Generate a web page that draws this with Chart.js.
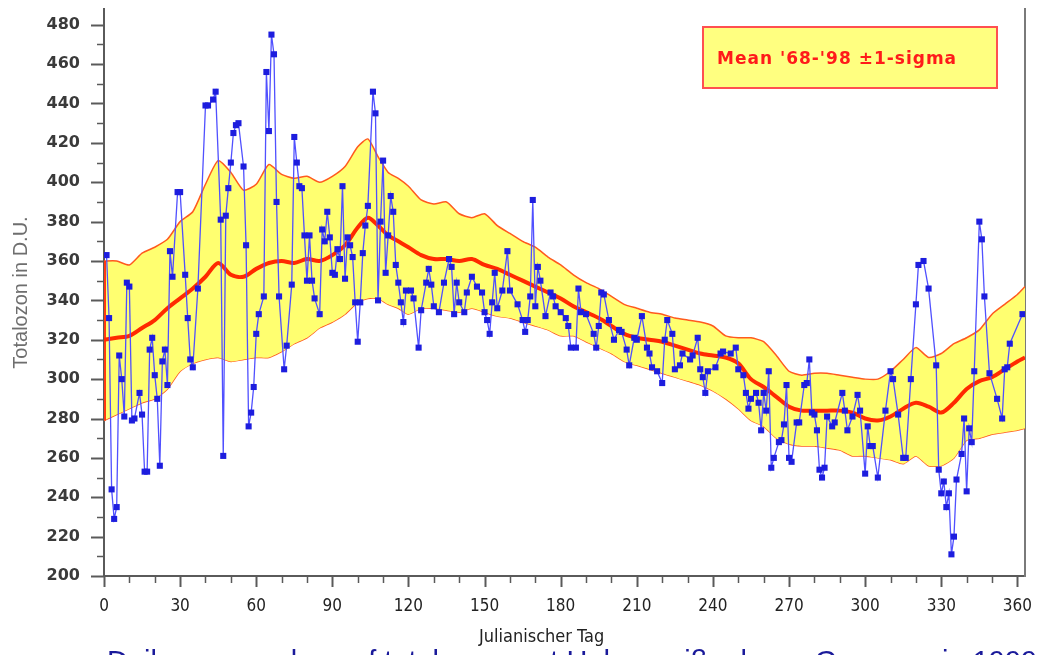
<!DOCTYPE html>
<html>
<head>
<meta charset="utf-8">
<script src="https://cdn.jsdelivr.net/npm/chart.js@4.4.0/dist/chart.umd.min.js"></script>
<style>
  html, body { margin: 0; padding: 0; background: #fff; }
  #wrap { position: relative; width: 1039px; height: 655px; }
</style>
</head>
<body>
<div id="wrap"><canvas id="ozoneChart"></canvas></div>
<script>
// --- Data: daily total ozone (D.U.) ---
const obsDays = [
  1, 2, 3, 4, 5, 6, 7, 8, 9, 10, 11, 12, 14, 15, 16, 17, 18, 19, 20, 21,
  22, 23, 24, 25, 26, 27, 29, 30, 32, 33, 34, 35, 37, 40, 41, 43, 44, 46, 47, 48,
  49, 50, 51, 52, 53, 55, 56, 57, 58, 59, 60, 61, 63, 64, 65, 66, 67, 68, 69, 71,
  72, 74, 75, 76, 77, 78, 79, 80, 81, 82, 83, 85, 86, 87, 88, 89, 90, 91, 92, 93,
  94, 95, 96, 97, 98, 99, 100, 101, 102, 103, 104, 106, 107, 108, 109, 110, 111, 112, 113, 114,
  115, 116, 117, 118, 119, 121, 122, 124, 125, 127, 128, 129, 130, 132, 134, 136, 137, 138, 139, 140,
  142, 143, 145, 147, 149, 150, 151, 152, 153, 154, 155, 157, 159, 160, 163, 165, 166, 167, 168, 169,
  170, 171, 172, 174, 176, 177, 178, 180, 182, 183, 184, 186, 187, 188, 190, 193, 194, 195, 196, 197,
  199, 201, 203, 204, 206, 207, 209, 210, 212, 214, 215, 216, 218, 220, 221, 222, 224, 225, 227, 228,
  231, 232, 234, 235, 236, 237, 238, 241, 243, 244, 247, 249, 250, 252, 253, 254, 255, 257, 258, 259,
  260, 261, 262, 263, 264, 266, 267, 268, 269, 270, 271, 273, 274, 276, 277, 278, 279, 280, 281, 282,
  283, 284, 285, 287, 288, 291, 292, 293, 295, 297, 298, 300, 301, 302, 303, 305, 308, 310, 311, 313,
  315, 316, 318, 320, 321, 323, 325, 328, 329, 330, 331, 332, 333, 334, 335, 336, 338, 339, 340, 341,
  342, 343, 345, 346, 347, 349, 352, 354, 355, 356, 357, 362
];
const obsOzone = [
  363, 331, 244, 229, 235, 312, 300, 281, 349, 347, 279, 280, 293, 282, 253, 253, 315, 321, 302, 290,
  256, 309, 315, 297, 365, 352, 395, 395, 353, 331, 310, 306, 346, 439, 439, 442, 446, 381, 261, 383,
  397, 410, 425, 429, 430, 408, 368, 276, 283, 296, 323, 333, 342, 456, 426, 475, 465, 390, 342, 305,
  317, 348, 423, 410, 398, 397, 373, 350, 373, 350, 341, 333, 376, 370, 385, 372, 354, 353, 366, 361,
  398, 351, 372, 368, 362, 339, 319, 339, 364, 378, 388, 446, 435, 340, 380, 411, 354, 373, 393, 385,
  358, 349, 339, 329, 345, 345, 341, 316, 335, 349, 356, 348, 337, 334, 349, 361, 357, 333, 349, 339,
  334, 344, 352, 347, 344, 334, 330, 323, 339, 354, 336, 345, 365, 345, 338, 330, 324, 330, 342, 391,
  337, 357, 350, 332, 344, 342, 337, 334, 331, 327, 316, 316, 346, 334, 333, 323, 316, 327, 344, 343,
  330, 320, 325, 324, 315, 307, 321, 320, 332, 316, 313, 306, 304, 298, 320, 330, 323, 305, 307, 313,
  310, 312, 321, 305, 301, 293, 304, 306, 313, 314, 313, 316, 305, 302, 293, 285, 290, 293, 288, 274,
  293, 284, 304, 255, 260, 268, 269, 277, 297, 260, 258, 278, 278, 297, 298, 310, 283, 282, 274, 254,
  250, 255, 281, 276, 278, 293, 284, 274, 281, 292, 284, 252, 276, 266, 266, 250, 284, 304, 300, 282,
  260, 260, 300, 338, 358, 360, 346, 307, 254, 242, 248, 235, 242, 211, 220, 249, 262, 280, 243, 275,
  268, 304, 380, 371, 342, 303, 290, 280, 305, 306, 318, 333
];

// --- Data: climatology 1968-1998, mean and +/- 1 sigma ---
const climDays = [
  0, 5, 10, 15, 20, 25, 30, 35, 40, 45, 50, 55, 60, 65, 70, 75, 80, 85, 90, 95,
  100, 104, 108, 112, 116, 120, 125, 130, 135, 140, 145, 150, 155, 160, 165, 170, 175, 180, 185, 190,
  195, 200, 205, 210, 215, 220, 225, 230, 235, 240, 245, 250, 255, 260, 265, 270, 275, 280, 285, 290,
  295, 300, 305, 310, 315, 320, 325, 330, 335, 340, 345, 350, 355, 360, 363
];
const climMean = [
  320, 321, 322, 326, 330, 336, 341, 346, 352, 359, 353, 352, 356, 359, 360, 359, 361, 360, 363, 368,
  377, 382, 378, 373, 370, 367, 363, 361, 361, 360, 361, 358, 356, 353, 350, 347, 344, 341, 337, 334,
  331, 327, 323, 321, 320, 319, 317, 315, 313, 312, 311, 308, 300, 296, 291, 286, 284, 284, 284, 284,
  283, 280, 279, 281, 285, 288, 286, 283, 288, 295, 299, 301, 305, 309, 311
];
const climUpper = [
  360, 360, 358, 364, 367, 371, 380, 385, 399, 411, 405, 396, 399, 409, 404, 402, 403, 400, 403, 408,
  418, 422, 413, 405, 402, 398, 391, 389, 390, 384, 382, 384, 378, 374, 370, 367, 362, 358, 353, 349,
  346, 342, 338, 336, 334, 333, 331, 330, 329, 327, 322, 321, 321, 319, 312, 304, 302, 303, 303, 302,
  301, 300, 300, 304, 310, 316, 311, 313, 318, 321, 325, 333, 338, 343, 347
];
const climLower = [
  279, 282, 285, 288, 290, 295, 304, 308, 310, 311, 309, 310, 311, 311, 314, 318, 321, 326, 329, 333,
  339, 341, 341, 338, 336, 333, 336, 336, 335, 334, 336, 334, 332, 331, 329, 327, 325, 322, 322, 319,
  316, 313, 309, 307, 305, 303, 301, 299, 297, 294, 290, 285, 279, 276, 270, 267, 266, 266, 265, 264,
  261, 261, 260, 259, 257, 261, 256, 256, 260, 269, 270, 272, 273, 274, 275
];

// --- Axis ticks ---
const dayTicks = [0, 30, 60, 90, 120, 150, 180, 210, 240, 270, 300, 330, 360];
const ozoneTicks = [200, 220, 240, 260, 280, 300, 320, 340, 360, 380, 400, 420, 440, 460, 480];

const legendText = "Mean '68-'98 \u00b11-sigma";
const xTitleText = 'Julianischer Tag';
const captionText = 'Daily mean values of total ozone at Hohenpeißenberg, Germany in 1999';

function toPoints(xs, ys) {
    return xs.map((x, i) => ({ x: x, y: ys[i] }));
}

// --- Plugins: tick marks, legend box, x title, caption ---
const axisDecor = {
    id: 'axisDecor',
    afterDraw(chart) {
        const { ctx, chartArea, scales } = chart;
        ctx.save();
        ctx.strokeStyle = '#5a5a5a';

        // y tick marks, minor every 10
        for (let v = 200; v <= 480; v += 10) {
            const y = Math.round(scales.y.getPixelForValue(v)) + 0.5;
            const major = v % 20 === 0;
            ctx.lineWidth = major ? 2 : 1.5;
            ctx.beginPath();
            ctx.moveTo(chartArea.left - (major ? 13 : 7), y);
            ctx.lineTo(chartArea.left, y);
            ctx.stroke();
        }
        // x tick marks, minor every 10
        for (let d = 0; d <= 360; d += 10) {
            const x = Math.round(scales.x.getPixelForValue(d)) + 0.5;
            const major = d % 30 === 0;
            ctx.lineWidth = major ? 2 : 1.5;
            ctx.beginPath();
            ctx.moveTo(x, chartArea.bottom);
            ctx.lineTo(x, chartArea.bottom + (major ? 11 : 7));
            ctx.stroke();
        }

        // legend box
        ctx.fillStyle = '#ffff80';
        ctx.fillRect(703, 27, 294, 61);
        ctx.strokeStyle = '#ff5050';
        ctx.lineWidth = 2;
        ctx.strokeRect(703, 27, 294, 61);
        ctx.fillStyle = '#ff1a1a';
        ctx.font = "bold 17px 'DejaVu Sans'";
        ctx.letterSpacing = '1px';
        ctx.textBaseline = 'middle';
        ctx.textAlign = 'left';
        ctx.fillText(legendText, 717, 60);
        ctx.letterSpacing = '0px';

        // x axis title
        ctx.fillStyle = '#222';
        ctx.font = "18px 'DejaVu Sans Condensed', 'DejaVu Sans'";
        ctx.fillText(xTitleText, 479, 637);

        // caption under the chart, cut by the image edge
        ctx.fillStyle = '#1a1a9a';
        ctx.font = "29px 'Liberation Sans'";
        ctx.textBaseline = 'alphabetic';
        ctx.fillText(captionText, 107, 671);
        ctx.restore();
    }
};

document.addEventListener('DOMContentLoaded', () => {
    const canvas = document.getElementById('ozoneChart');
    canvas.width = 1039;
    canvas.height = 655;
    const ctx = canvas.getContext('2d');

    new Chart(ctx, {
        type: 'line',
        data: {
            datasets: [
                {
                    label: 'Total ozone 1999',
                    data: toPoints(obsDays, obsOzone),
                    borderColor: '#5050ff',
                    borderWidth: 1.3,
                    pointStyle: 'rect',
                    pointRadius: 4.3,
                    pointBackgroundColor: '#1d1dde',
                    pointBorderColor: '#1d1dde',
                    pointBorderWidth: 0,
                    tension: 0,
                    order: 0
                },
                {
                    label: 'Mean',
                    data: toPoints(climDays, climMean),
                    borderColor: '#ff2a00',
                    borderWidth: 4,
                    pointRadius: 0,
                    tension: 0.3,
                    order: 1
                },
                {
                    label: '+1 sigma',
                    data: toPoints(climDays, climUpper),
                    borderColor: '#ff5a1e',
                    borderWidth: 1.5,
                    backgroundColor: '#ffff70',
                    fill: '+1',
                    pointRadius: 0,
                    tension: 0.2,
                    order: 2
                },
                {
                    label: '-1 sigma',
                    data: toPoints(climDays, climLower),
                    borderColor: '#ff5a1e',
                    borderWidth: 1.5,
                    pointRadius: 0,
                    tension: 0.2,
                    order: 3
                },
                {
                    label: 'edge',
                    data: [{ x: climDays[0], y: climLower[0] }, { x: climDays[0], y: climUpper[0] }],
                    borderColor: '#ff3a10',
                    borderWidth: 4,
                    pointRadius: 0,
                    order: 1
                }
            ]
        },
        options: {
            responsive: false,
            animation: false,
            layout: { padding: { top: 9, right: 0, bottom: 0, left: 0 } },
            plugins: {
                legend: { display: false },
                tooltip: { enabled: false }
            },
            scales: {
                x: {
                    type: 'linear',
                    min: 0,
                    max: 363,
                    afterBuildTicks: (scale) => { scale.ticks = dayTicks.map(v => ({ value: v })); },
                    afterFit: (scale) => {
                        scale.height = 79;
                        scale.paddingLeft = 0;
                        scale.paddingRight = 0;
                    },
                    grid: { display: false, drawTicks: false },
                    border: { display: true, color: '#5a5a5a', width: 2 },
                    ticks: {
                        autoSkip: false,
                        maxRotation: 0,
                        padding: 20,
                        color: '#222',
                        font: { family: "'DejaVu Sans Condensed', 'DejaVu Sans'", size: 17 }
                    }
                },
                y: {
                    type: 'linear',
                    position: 'left',
                    min: 200,
                    max: 488,
                    afterBuildTicks: (scale) => { scale.ticks = ozoneTicks.map(v => ({ value: v })); },
                    afterFit: (scale) => {
                        scale.width = 104;
                        scale.paddingTop = 0;
                        scale.paddingBottom = 0;
                    },
                    grid: { display: false, drawTicks: false },
                    border: { display: true, color: '#5a5a5a', width: 2 },
                    ticks: {
                        autoSkip: false,
                        padding: 24,
                        color: '#3a3a3a',
                        font: { family: "'DejaVu Sans'", size: 16, weight: 'bold' }
                    },
                    title: {
                        display: true,
                        text: 'Totalozon in D.U.',
                        color: '#6e6e6e',
                        font: { family: "'Liberation Sans'", size: 20 },
                        padding: { top: 9, bottom: 0 }
                    }
                },
                yRight: {
                    type: 'linear',
                    position: 'right',
                    afterFit: (scale) => {
                        scale.width = 14;
                        scale.paddingTop = 0;
                        scale.paddingBottom = 0;
                    },
                    grid: { display: false, drawTicks: false },
                    border: { display: true, color: '#7a7a7a', width: 2 },
                    ticks: { display: false }
                }
            }
        },
        plugins: [axisDecor]
    });
});
</script>
</body>
</html>
